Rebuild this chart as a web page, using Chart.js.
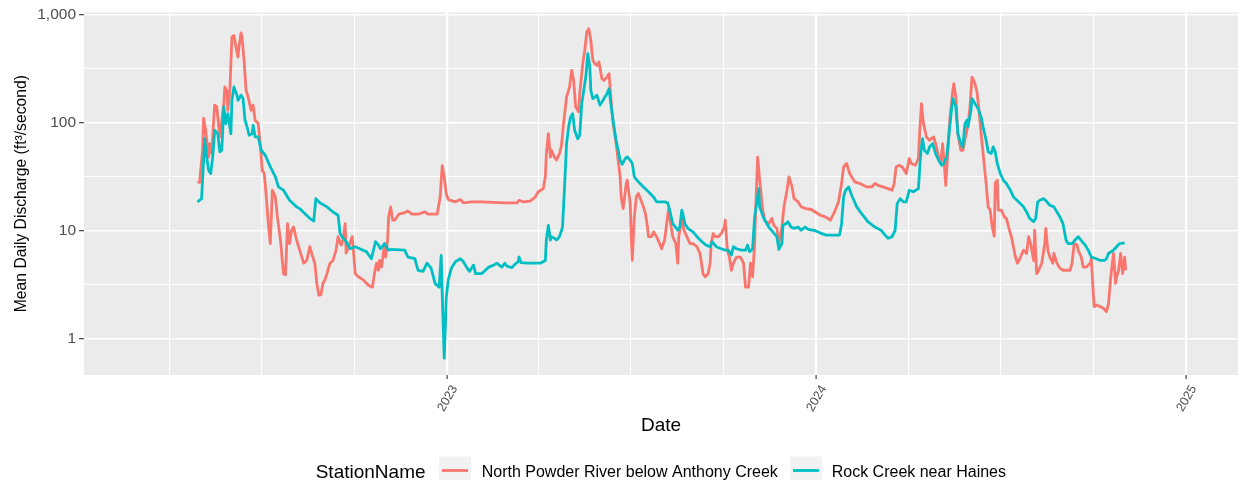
<!DOCTYPE html>
<html>
<head>
<meta charset="utf-8">
<title>Mean Daily Discharge</title>
<script src="https://cdn.jsdelivr.net/npm/chart.js@4.4.1/dist/chart.umd.min.js"></script>
<style>
  html, body { margin: 0; padding: 0; background: #ffffff; }
  #wrap { width: 1238px; height: 480px; }
</style>
</head>
<body>
<div id="wrap"><canvas id="flowChart" width="1238" height="480"></canvas></div>
<script>
// Station names and ggplot-style hue colours
const stations = ['North Powder River below Anthony Creek', 'Rock Creek near Haines'];
const stationColors = ['#F8766D', '#00BFC4'];

// North Powder River below Anthony Creek, mean daily discharge (ft3/s)
const powderDates = [
  '2022-04-29','2022-05-01','2022-05-04','2022-05-05','2022-05-07','2022-05-10','2022-05-11','2022-05-13','2022-05-15','2022-05-16',
  '2022-05-18','2022-05-20','2022-05-21','2022-05-23','2022-05-25','2022-05-26','2022-05-28','2022-05-29','2022-05-31','2022-06-02',
  '2022-06-04','2022-06-06','2022-06-08','2022-06-09','2022-06-11','2022-06-12','2022-06-14','2022-06-16','2022-06-18','2022-06-21',
  '2022-06-23','2022-06-25','2022-06-28','2022-06-30','2022-07-02','2022-07-04','2022-07-06','2022-07-08','2022-07-10','2022-07-12',
  '2022-07-15','2022-07-17','2022-07-20','2022-07-23','2022-07-25','2022-07-27','2022-07-29','2022-07-31','2022-08-02','2022-08-05',
  '2022-08-08','2022-08-12','2022-08-15','2022-08-18','2022-08-21','2022-08-23','2022-08-25','2022-08-27','2022-08-29','2022-08-31',
  '2022-09-02','2022-09-04','2022-09-07','2022-09-10','2022-09-13','2022-09-15','2022-09-18','2022-09-20','2022-09-22','2022-09-23',
  '2022-09-29','2022-10-02','2022-10-05','2022-10-10','2022-10-15','2022-10-19','2022-10-21','2022-10-23','2022-10-25','2022-10-26',
  '2022-10-28','2022-10-31','2022-11-01','2022-11-03','2022-11-04','2022-11-06','2022-11-08','2022-11-10','2022-11-14','2022-11-19',
  '2022-11-23','2022-11-27','2022-12-03','2022-12-10','2022-12-13','2022-12-22','2022-12-25','2022-12-27','2022-12-29','2022-12-31',
  '2023-01-02','2023-01-09','2023-01-14','2023-01-17','2023-01-25','2023-02-04','2023-02-27','2023-03-11','2023-03-13','2023-03-17',
  '2023-03-24','2023-03-29','2023-04-01','2023-04-06','2023-04-08','2023-04-09','2023-04-11','2023-04-13','2023-04-14','2023-04-17',
  '2023-04-19','2023-04-22','2023-04-24','2023-04-26','2023-04-29','2023-05-02','2023-05-04','2023-05-06','2023-05-08','2023-05-11',
  '2023-05-12','2023-05-15','2023-05-17','2023-05-19','2023-05-21','2023-05-23','2023-05-25','2023-05-27','2023-05-29','2023-05-31',
  '2023-06-03','2023-06-05','2023-06-08','2023-06-10','2023-06-12','2023-06-14','2023-06-17','2023-06-19','2023-06-21','2023-06-22',
  '2023-06-24','2023-06-27','2023-06-28','2023-07-01','2023-07-02','2023-07-03','2023-07-05','2023-07-07','2023-07-09','2023-07-11',
  '2023-07-14','2023-07-16','2023-07-18','2023-07-19','2023-07-22','2023-07-24','2023-07-27','2023-07-30','2023-08-01','2023-08-04',
  '2023-08-06','2023-08-08','2023-08-10','2023-08-12','2023-08-15','2023-08-17','2023-08-18','2023-08-21','2023-08-23','2023-08-26',
  '2023-08-29','2023-09-01','2023-09-05','2023-09-08','2023-09-11','2023-09-13','2023-09-16','2023-09-18','2023-09-19','2023-09-21',
  '2023-09-23','2023-09-26','2023-09-29','2023-10-02','2023-10-03','2023-10-05','2023-10-07','2023-10-09','2023-10-11','2023-10-14',
  '2023-10-18','2023-10-21','2023-10-23','2023-10-26','2023-10-28','2023-10-30','2023-11-01','2023-11-02','2023-11-04','2023-11-06',
  '2023-11-09','2023-11-11','2023-11-15','2023-11-18','2023-11-20','2023-11-23','2023-11-25','2023-11-28','2023-11-30','2023-12-03',
  '2023-12-05','2023-12-08','2023-12-10','2023-12-14','2023-12-17','2023-12-22','2023-12-27','2023-12-31','2024-01-05','2024-01-10',
  '2024-01-15','2024-01-19','2024-01-23','2024-01-26','2024-01-28','2024-01-31','2024-02-03','2024-02-08','2024-02-13','2024-02-20',
  '2024-02-25','2024-02-28','2024-03-02','2024-03-07','2024-03-12','2024-03-16','2024-03-18','2024-03-20','2024-03-23','2024-03-26',
  '2024-03-30','2024-04-02','2024-04-04','2024-04-08','2024-04-11','2024-04-12','2024-04-14','2024-04-16','2024-04-19','2024-04-22',
  '2024-04-26','2024-04-28','2024-05-01','2024-05-03','2024-05-05','2024-05-07','2024-05-08','2024-05-10','2024-05-12','2024-05-15',
  '2024-05-16','2024-05-18','2024-05-20','2024-05-23','2024-05-25','2024-05-29','2024-05-30','2024-06-01','2024-06-03','2024-06-04',
  '2024-06-06','2024-06-08','2024-06-10','2024-06-12','2024-06-14','2024-06-17','2024-06-19','2024-06-21','2024-06-23','2024-06-25',
  '2024-06-26','2024-06-28','2024-06-29','2024-07-02','2024-07-05','2024-07-07','2024-07-10','2024-07-12','2024-07-16','2024-07-18',
  '2024-07-21','2024-07-24','2024-07-27','2024-07-29','2024-07-31','2024-08-03','2024-08-04','2024-08-06','2024-08-08','2024-08-11',
  '2024-08-14','2024-08-15','2024-08-17','2024-08-19','2024-08-22','2024-08-23','2024-08-26','2024-08-29','2024-09-01','2024-09-05',
  '2024-09-08','2024-09-10','2024-09-12','2024-09-15','2024-09-16','2024-09-19','2024-09-21','2024-09-24','2024-09-28','2024-09-29',
  '2024-10-01','2024-10-02','2024-10-04','2024-10-08','2024-10-11','2024-10-14','2024-10-16','2024-10-18','2024-10-19','2024-10-21',
  '2024-10-23','2024-10-24','2024-10-26','2024-10-28','2024-10-30','2024-11-01','2024-11-02'
];
const powderFlow = [
  28.3, 28, 55.5, 110, 85, 48, 64, 52, 105, 145,
  140, 91, 74, 105, 150, 214, 199, 130, 199, 620,
  642, 500, 405, 500, 675, 620, 377, 199, 173, 130,
  145, 105, 98, 64, 36, 34, 20.5, 11.6, 7.6, 23.7,
  20.5, 13.4, 8.2, 4.0, 3.9, 11.6, 7.6, 10.1, 10.8, 8.2,
  6.6, 5.0, 5.3, 7.1, 5.7, 5.0, 3.25, 2.53, 2.55, 3.25,
  3.5, 4.0, 5.0, 5.3, 6.6, 8.8, 7.35, 8.2, 11.6, 6.2,
  8.8, 4.0, 3.74, 3.5, 3.13, 3.0, 4.0, 5.0, 4.3, 5.3,
  4.6, 7.6, 5.7, 8.2, 13.4, 16.6, 12.5, 12.5, 14.2, 14.6,
  15.2, 14.2, 14.2, 14.9, 14.2, 14.2, 20.5, 40, 31.5, 22,
  19.4, 18.5, 19.4, 18.1, 18.5, 18.5, 18.1, 18.1, 19.1, 18.5,
  18.8, 20.5, 22.9, 24.5, 31.5, 51.7, 79, 48, 55.5, 48,
  45, 51.7, 61.7, 98, 173, 214, 305, 246, 140, 126,
  185, 351, 466, 689, 740, 577, 377, 351, 339, 364,
  255, 246, 264, 284, 161, 98, 64, 45, 31.5, 20.5,
  16.0, 27.3, 29.3, 17.8, 8.8, 5.3, 13.4, 20.5, 22.1, 19.8,
  16.6, 14.4, 10.8, 8.8, 8.8, 9.75, 8.8, 7.6, 6.8, 8.2,
  11.6, 16.0, 11.6, 8.8, 7.6, 5.0, 8.8, 13.4, 10.1, 8.8,
  7.6, 7.6, 7.1, 6.15, 4.0, 3.74, 4.0, 5.0, 7.6, 9.4,
  8.8, 8.8, 9.4, 10.8, 12.5, 6.6, 5.7, 4.3, 5.0, 5.7,
  5.7, 5.0, 3.0, 3.0, 5.0, 3.74, 7.6, 15.5, 48, 29.3,
  15.5, 12.5, 11.6, 13.0, 11.2, 10.5, 7.6, 10.8, 16.6, 23.7,
  31.5, 25.4, 19.8, 18.5, 16.6, 16.0, 15.7, 14.9, 13.9, 13.4,
  12.5, 14.9, 18.5, 27.3, 38.9, 41.8, 33.8, 28.3, 27.3, 25.4,
  25.4, 27.3, 26.3, 25.4, 24.5, 23.7, 27.3, 38.9, 40.3, 38.9,
  33.8, 46.5, 41.8, 40.3, 46.5, 73.7, 150, 98, 73.7, 68.7,
  73.7, 64, 48.2, 41.8, 64, 36.3, 26.3, 51.7, 105, 199,
  229, 173, 79, 55.5, 55.5, 84.9, 94.5, 140, 264, 255,
  229, 191, 130, 79, 51.7, 27.3, 16.6, 15.5, 10.8, 8.9,
  27.3, 29.3, 15.5, 15.5, 13.4, 13.0, 10.1, 8.8, 5.7, 5.0,
  5.7, 6.6, 6.15, 8.8, 7.6, 5.3, 10.1, 4.0, 4.3, 5.0,
  7.6, 10.5, 6.6, 5.7, 5.0, 6.15, 5.0, 4.5, 4.3, 4.3,
  4.3, 5.0, 7.6, 7.35, 6.6, 5.7, 4.6, 4.6, 5.0, 5.5,
  2.6, 1.98, 2.05, 1.98, 1.91, 1.78, 2.1, 3.5, 4.3, 6.15,
  3.25, 3.74, 4.3, 6.15, 4.0, 5.7, 4.3
];

// Rock Creek near Haines, mean daily discharge (ft3/s)
const rockDates = [
  '2022-04-29','2022-05-03','2022-05-05','2022-05-06','2022-05-08','2022-05-10','2022-05-12','2022-05-14','2022-05-16','2022-05-19',
  '2022-05-21','2022-05-23','2022-05-25','2022-05-27','2022-05-29','2022-06-01','2022-06-02','2022-06-04','2022-06-07','2022-06-08',
  '2022-06-11','2022-06-13','2022-06-15','2022-06-17','2022-06-19','2022-06-22','2022-06-23','2022-06-25','2022-06-28','2022-07-01',
  '2022-07-05','2022-07-10','2022-07-15','2022-07-18','2022-07-23','2022-07-29','2022-08-05','2022-08-08','2022-08-13','2022-08-18',
  '2022-08-22','2022-08-24','2022-08-28','2022-09-04','2022-09-10','2022-09-15','2022-09-17','2022-09-20','2022-09-22','2022-09-27',
  '2022-10-02','2022-10-08','2022-10-13','2022-10-18','2022-10-22','2022-10-25','2022-10-27','2022-10-31','2022-11-04','2022-11-07',
  '2022-11-20','2022-11-23','2022-11-30','2022-12-03','2022-12-08','2022-12-12','2022-12-16','2022-12-20','2022-12-24','2022-12-26',
  '2022-12-27','2022-12-29','2022-12-30','2022-12-31','2023-01-02','2023-01-05','2023-01-09','2023-01-14','2023-01-17','2023-01-20',
  '2023-01-23','2023-01-27','2023-01-29','2023-02-04','2023-02-11','2023-02-16','2023-02-19','2023-02-24','2023-02-27','2023-03-01',
  '2023-03-06','2023-03-09','2023-03-12','2023-03-13','2023-03-15','2023-03-21','2023-03-27','2023-04-03','2023-04-08','2023-04-09',
  '2023-04-11','2023-04-13','2023-04-14','2023-04-17','2023-04-19','2023-04-22','2023-04-25','2023-04-27','2023-04-29','2023-05-01',
  '2023-05-03','2023-05-05','2023-05-07','2023-05-10','2023-05-12','2023-05-14','2023-05-16','2023-05-18','2023-05-20','2023-05-22',
  '2023-05-23','2023-05-25','2023-05-29','2023-06-01','2023-06-04','2023-06-08','2023-06-10','2023-06-12','2023-06-14','2023-06-17',
  '2023-06-19','2023-06-21','2023-06-23','2023-06-26','2023-06-28','2023-07-01','2023-07-03','2023-07-05','2023-07-09','2023-07-14',
  '2023-07-19','2023-07-24','2023-07-27','2023-07-30','2023-08-04','2023-08-07','2023-08-09','2023-08-12','2023-08-17','2023-08-19',
  '2023-08-21','2023-08-22','2023-08-24','2023-08-27','2023-09-01','2023-09-05','2023-09-10','2023-09-14','2023-09-18','2023-09-20',
  '2023-09-24','2023-09-29','2023-10-03','2023-10-06','2023-10-09','2023-10-11','2023-10-14','2023-10-19','2023-10-23','2023-10-25',
  '2023-10-27','2023-10-30','2023-11-01','2023-11-03','2023-11-05','2023-11-06','2023-11-10','2023-11-15','2023-11-19','2023-11-23',
  '2023-11-25','2023-11-28','2023-11-29','2023-12-02','2023-12-04','2023-12-07','2023-12-10','2023-12-14','2023-12-17','2023-12-21',
  '2023-12-24','2023-12-31','2024-01-05','2024-01-11','2024-01-18','2024-01-24','2024-01-26','2024-01-28','2024-01-30','2024-02-02',
  '2024-02-05','2024-02-10','2024-02-16','2024-02-21','2024-02-28','2024-03-05','2024-03-09','2024-03-12','2024-03-16','2024-03-19',
  '2024-03-21','2024-03-24','2024-03-27','2024-03-30','2024-04-02','2024-04-06','2024-04-11','2024-04-13','2024-04-15','2024-04-17',
  '2024-04-20','2024-04-22','2024-04-25','2024-04-28','2024-05-01','2024-05-04','2024-05-06','2024-05-09','2024-05-11','2024-05-14',
  '2024-05-15','2024-05-18','2024-05-20','2024-05-23','2024-05-25','2024-05-27','2024-05-29','2024-05-30','2024-06-02','2024-06-03',
  '2024-06-06','2024-06-09','2024-06-12','2024-06-14','2024-06-17','2024-06-19','2024-06-22','2024-06-24','2024-06-26','2024-06-28',
  '2024-07-01','2024-07-04','2024-07-07','2024-07-11','2024-07-14','2024-07-19','2024-07-24','2024-07-27','2024-07-30','2024-08-03',
  '2024-08-05','2024-08-07','2024-08-09','2024-08-13','2024-08-16','2024-08-19','2024-08-23','2024-08-26','2024-08-29','2024-09-01',
  '2024-09-04','2024-09-06','2024-09-10','2024-09-13','2024-09-16','2024-09-20','2024-09-23','2024-09-26','2024-09-29','2024-10-04',
  '2024-10-08','2024-10-12','2024-10-14','2024-10-16','2024-10-21','2024-10-24','2024-10-27','2024-11-01'
];
const rockFlow = [
  18.5, 19.8, 44.9, 71, 48.2, 36.3, 33.8, 48.2, 84.9, 79,
  53.6, 55.5, 140, 97.9, 121, 79, 161, 214, 179, 161,
  179, 167, 105, 91.2, 76.4, 79, 94.5, 73.7, 73.7, 55.5,
  49.9, 38.9, 31.5, 25.4, 23.7, 19.1, 16.6, 16.0, 14.4, 13.0,
  12.3, 19.8, 18.1, 16.6, 14.9, 13.9, 9.4, 8.5, 8.2, 6.8,
  7.1, 6.7, 6.4, 5.5, 7.9, 7.35, 6.8, 7.6, 6.6, 6.7,
  6.6, 5.7, 5.5, 4.3, 4.2, 5.0, 4.5, 3.25, 3.0, 5.9,
  2.6, 0.66, 1.2, 2.4, 3.5, 4.5, 5.15, 5.5, 5.15, 4.6,
  4.2, 4.8, 4.0, 4.0, 4.6, 4.8, 5.0, 4.6, 5.0, 4.7,
  4.55, 4.9, 5.15, 5.7, 5.05, 5.0, 5.0, 5.0, 5.3, 8.2,
  11.2, 8.2, 8.8, 8.5, 8.2, 8.8, 10.8, 25.4, 64, 91,
  113, 121, 85, 71, 76, 150, 199, 264, 434, 327,
  199, 167, 179, 145, 161, 185, 206, 145, 105, 68.7,
  55.5, 44.9, 41.2, 46.5, 48.2, 44.9, 41.8, 31.5, 28.3, 25.4,
  22.9, 20.5, 18.5, 18.5, 18.5, 18.1, 15.5, 11.6, 10.1, 10.8,
  15.5, 14.4, 11.6, 10.5, 9.75, 8.8, 7.9, 7.35, 7.1, 7.9,
  7.1, 6.8, 6.6, 6.6, 5.94, 7.1, 6.8, 6.6, 6.6, 7.35,
  6.4, 6.8, 13.4, 17.8, 24.5, 16.6, 13.0, 10.8, 9.75, 8.8,
  6.7, 7.6, 11.2, 11.6, 12.1, 10.8, 10.5, 10.8, 10.1, 10.8,
  10.3, 10.0, 9.5, 9.1, 9.1, 9.1, 11.6, 20.5, 23.7, 25.4,
  21.3, 16.6, 13.9, 12.1, 10.8, 10.1, 9.1, 8.5, 8.8, 10.1,
  17.8, 19.8, 18.5, 18.5, 23.7, 22.9, 24.5, 48.2, 71, 55.5,
  51.7, 59.6, 64, 51.7, 44.9, 40.3, 41.8, 48.2, 73.7, 140,
  167, 140, 79, 64, 59.6, 97.9, 105, 91, 130, 167,
  150, 135, 113, 91, 68.7, 53.6, 51.7, 59.6, 53.6, 41.8,
  33.8, 29.3, 27.3, 23.7, 20.5, 18.5, 16.6, 14.9, 13.0, 12.1,
  13.0, 18.5, 19.1, 19.8, 18.5, 17.2, 16.6, 14.9, 13.4, 11.6,
  8.2, 7.6, 7.6, 8.2, 8.8, 7.9, 7.35, 6.6, 5.7, 5.5,
  5.3, 5.3, 5.5, 6.15, 6.6, 7.1, 7.6, 7.7
];

// Axis breaks and labels
const yBreaks = [1, 10, 100, 1000];
const yLabels = ['1', '10', '100', '1,000'];
const yMinorBreaks = [3.162, 31.62, 316.2];
const xYearBreaks = ['2023-01-01', '2024-01-01', '2025-01-01'];
const xYearLabels = ['2023', '2024', '2025'];
const xMinorBreaks = ['2022-04-01', '2022-07-01', '2022-10-01', '2023-04-01', '2023-07-01',
                      '2023-10-01', '2024-04-01', '2024-07-01', '2024-10-01'];

const DAY = 86400000;
const toMs = s => Date.parse(s + 'T00:00:00Z');
const FONT = '"Liberation Sans", Arial, Helvetica, sans-serif';

const yearMs = xYearBreaks.map(toMs);
const isYear = v => yearMs.includes(v);
const isDecade = v => yBreaks.includes(v);

// background panel, rotated year labels, axis titles and the legend strip
const ggDecor = {
  id: 'ggDecor',
  beforeDraw(chart) {
    const { ctx, chartArea: a } = chart;
    ctx.save();
    ctx.fillStyle = '#EBEBEB';
    ctx.fillRect(a.left, a.top, a.right - a.left, a.bottom - a.top);
    ctx.restore();
  },
  afterDraw(chart) {
    const { ctx, chartArea: a } = chart;
    const xs = chart.scales.x;
    ctx.save();

    // year labels under the x axis
    ctx.fillStyle = '#4D4D4D';
    ctx.font = '12.5px ' + FONT;
    ctx.textAlign = 'center';
    ctx.textBaseline = 'middle';
    xs.ticks.forEach(t => {
      const i = yearMs.indexOf(t.value);
      if (i < 0) return;
      const px = xs.getPixelForValue(t.value);
      ctx.save();
      ctx.translate(px + 0.5, 398.5);
      ctx.rotate(-Math.PI / 3);
      ctx.fillText(xYearLabels[i], 0, 0);
      ctx.restore();
    });

    // axis titles
    ctx.fillStyle = '#000000';
    ctx.font = '19px ' + FONT;
    ctx.textAlign = 'center';
    ctx.textBaseline = 'alphabetic';
    ctx.fillText('Date', (a.left + a.right) / 2, 430.5);

    ctx.save();
    ctx.translate(26, (a.top + a.bottom) / 2);
    ctx.rotate(-Math.PI / 2);
    ctx.font = '15.7px ' + FONT;
    ctx.fillText('Mean Daily Discharge (ft\u00B3/second)', 0, 0);
    ctx.restore();

    // legend: title, keys and labels
    ctx.textAlign = 'left';
    ctx.font = '19px ' + FONT;
    ctx.fillText('StationName', 315.7, 477.5);

    const keys = [
      { box: 439, text: 481.7 },
      { box: 790, text: 831.7 }
    ];
    ctx.font = '16px ' + FONT;
    keys.forEach((k, i) => {
      ctx.fillStyle = '#F2F2F2';
      ctx.fillRect(k.box, 456.5, 32, 30);
      ctx.strokeStyle = stationColors[i];
      ctx.lineWidth = 2.8;
      ctx.beginPath();
      ctx.moveTo(k.box + 3, 470.5);
      ctx.lineTo(k.box + 29, 470.5);
      ctx.stroke();
      ctx.fillStyle = '#000000';
      ctx.fillText(stations[i], k.text, 476.5);
    });
    ctx.restore();
  }
};

const seriesPoints = (dates, values) => dates.map((d, i) => ({ x: toMs(d), y: values[i] }));

new Chart(document.getElementById('flowChart'), {
  type: 'line',
  data: {
    datasets: [
      {
        label: stations[0],
        data: seriesPoints(powderDates, powderFlow),
        borderColor: stationColors[0],
        borderWidth: 2.8,
        pointRadius: 0,
        tension: 0,
        fill: false,
        borderJoinStyle: 'round',
        order: 2
      },
      {
        label: stations[1],
        data: seriesPoints(rockDates, rockFlow),
        borderColor: stationColors[1],
        borderWidth: 2.8,
        pointRadius: 0,
        tension: 0,
        fill: false,
        borderJoinStyle: 'round',
        order: 1
      }
    ]
  },
  options: {
    responsive: false,
    animation: false,
    events: [],
    layout: { padding: { top: 12, right: 0, bottom: 0, left: 0 } },
    plugins: {
      legend: { display: false },
      tooltip: { enabled: false }
    },
    scales: {
      x: {
        type: 'linear',
        min: toMs('2022-01-06') + 0.7 * DAY,
        max: toMs('2025-02-21') + 0.1 * DAY,
        afterBuildTicks(scale) {
          const minor = xMinorBreaks.map(d => ({ value: toMs(d) }));
          const major = yearMs.map(v => ({ value: v, major: true }));
          scale.ticks = minor.concat(major).sort((p, q) => p.value - q.value);
        },
        afterFit(scale) { scale.height = 105; },
        ticks: { display: false, autoSkip: false },
        grid: {
          color: '#FFFFFF',
          lineWidth: c => (c.tick && isYear(c.tick.value)) ? 2.2 : 1.1,
          drawTicks: true,
          tickLength: 4,
          tickWidth: 1.1,
          tickColor: c => (c.tick && isYear(c.tick.value)) ? '#333333' : 'rgba(0,0,0,0)'
        },
        border: { display: false }
      },
      y: {
        type: 'logarithmic',
        min: 0.4614,
        max: 1050,
        afterBuildTicks(scale) {
          scale.ticks = yBreaks.concat(yMinorBreaks)
            .sort((p, q) => p - q)
            .map(v => ({ value: v, major: isDecade(v) }));
        },
        afterFit(scale) { scale.width = 84; },
        ticks: {
          autoSkip: false,
          padding: 3,
          color: '#4D4D4D',
          font: { family: FONT, size: 15.5 },
          callback: v => {
            const i = yBreaks.indexOf(v);
            return i >= 0 ? yLabels[i] : '';
          }
        },
        grid: {
          color: '#FFFFFF',
          lineWidth: c => (c.tick && isDecade(c.tick.value)) ? 1.4 : 0.9,
          drawTicks: true,
          tickLength: 5,
          tickWidth: 1.1,
          tickColor: c => (c.tick && isDecade(c.tick.value)) ? '#333333' : 'rgba(0,0,0,0)'
        },
        border: { display: false }
      }
    }
  },
  plugins: [ggDecor]
});
</script>
</body>
</html>
